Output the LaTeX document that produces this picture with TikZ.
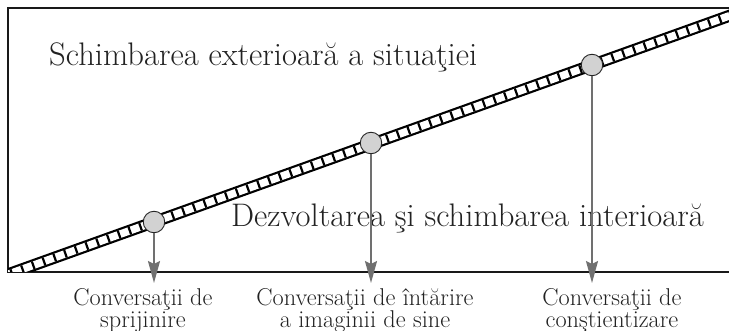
\documentclass[tikz,border=0pt]{standalone}
\usetikzlibrary{arrows.meta}
\definecolor{arrgray}{HTML}{707070}
\definecolor{dotgray}{HTML}{D2D2D2}
\definecolor{ink}{HTML}{222222}
\begin{document}
\begin{tikzpicture}[x=1pt,y=-1pt,
  frame/.style={draw=black!90,line width=1.8pt},
  dot/.style={circle,draw=black!85,line width=0.9pt,fill=dotgray,minimum size=21.5pt,inner sep=0pt},
  arr/.style={draw=arrgray,line width=2pt,-{Stealth[length=22pt,width=12pt,inset=3pt]}},
  bigtext/.style={font=\fontsize{32.6}{32.6}\selectfont,text=ink,inner sep=0pt},
  smalltext/.style={font=\fontsize{24.3}{22}\selectfont,text=ink,align=center,inner sep=0pt,anchor=north}
]
\useasboundingbox (0,0) rectangle (729,331);
% frame
\coordinate (tl) at (8,8);
\coordinate (tr) at (729,8);
\coordinate (bl) at (8,272);
\coordinate (br) at (729,272);
\draw[frame] (tr) -- (tl) -- (bl) -- (br);
% band
\coordinate (b0) at (0,277.2);
\coordinate (b1) at (740,12);
\begin{scope}
  \clip (8,0) rectangle (729,272);
  \draw[black,line width=12pt] (b0) -- (b1);
  \draw[white,line width=7.6pt] (b0) -- (b1);
  \draw[black,line width=7.8pt,dash pattern=on 2.2pt off 9.2pt] (b0) -- (b1);
\end{scope}
% texts
\node[bigtext,anchor=base west] (ext) at (49,66) {Schimbarea exterioară a situaţiei};
\node[bigtext,anchor=base west] (int) at (231,227) {Dezvoltarea şi schimbarea interioară};
% dots
\node[dot] (c1) at (154,222) {};
\node[dot] (c2) at (371,143) {};
\node[dot] (c3) at (592,65) {};
% arrows
\coordinate (t1) at (154,283);
\coordinate (t2) at (371,283);
\coordinate (t3) at (592,283);
\draw[arr] (c1.south) -- (t1);
\draw[arr] (c2.south) -- (t2);
\draw[arr] (c3.south) -- (t3);
% labels
\node[smalltext] (l1) at (143,288.1) {Conversaţii de\\sprijinire};
\node[smalltext] (l2) at (365,288.1) {Conversaţii de întărire\\a imaginii de sine};
\node[smalltext] (l3) at (612,288.1) {Conversaţii de\\conştientizare};
\end{tikzpicture}
\end{document}
